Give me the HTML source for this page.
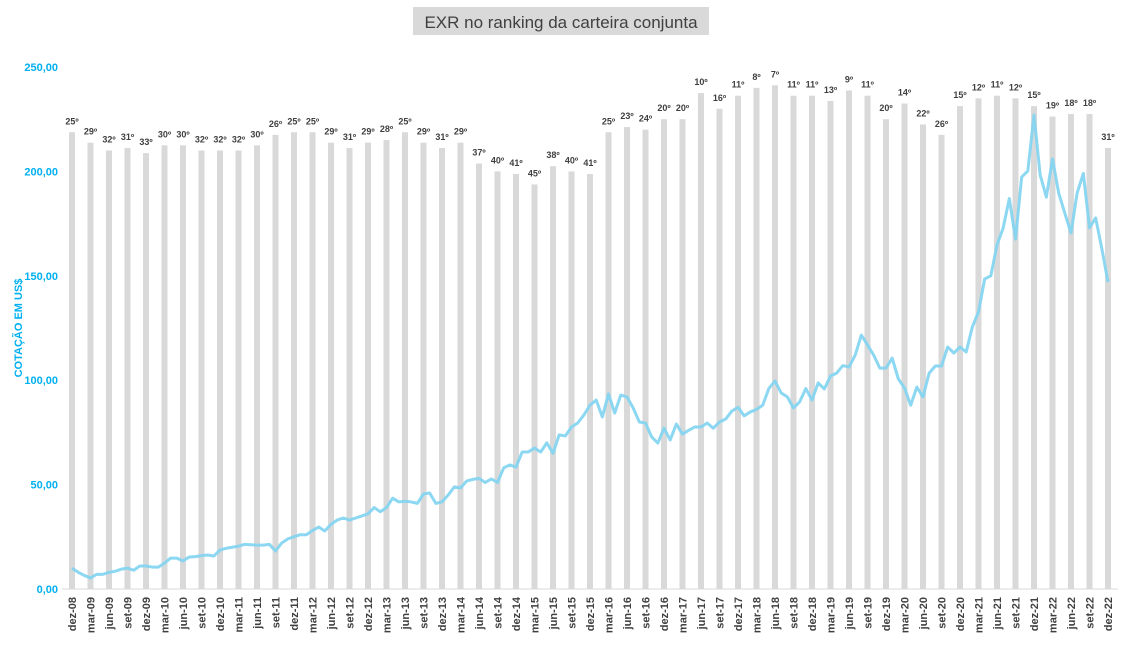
<!DOCTYPE html>
<html><head><meta charset="utf-8"><style>
body{margin:0;background:#fff;width:1136px;height:643px;overflow:hidden;font-family:"Liberation Sans",sans-serif}
</style></head><body>
<svg id="chart" width="1136" height="643" viewBox="0 0 1136 643" xmlns="http://www.w3.org/2000/svg">
<rect x="413" y="7" width="296" height="28" fill="#d9d9d9"/>
<text x="561" y="28" text-anchor="middle" font-size="17" fill="#404040" font-family="Liberation Sans, sans-serif">EXR no ranking da carteira conjunta</text>
<text transform="translate(22,328) rotate(-90)" text-anchor="middle" font-size="11" font-weight="bold" fill="#00b0f0">COTAÇÃO EM US$</text>
<g id="yaxis"></g>
<g id="bars"></g>
<g id="ranks"></g>
<g id="xaxis"></g>
<g id="line"></g>
</svg>
<script>
const yTicks = [0, 50, 100, 150, 200, 250];
const yTickLabels = ["0,00","50,00","100,00","150,00","200,00","250,00"];
const quarterLabels = ["dez-08","mar-09","jun-09","set-09","dez-09","mar-10","jun-10","set-10","dez-10","mar-11","jun-11","set-11","dez-11","mar-12","jun-12","set-12","dez-12","mar-13","jun-13","set-13","dez-13","mar-14","jun-14","set-14","dez-14","mar-15","jun-15","set-15","dez-15","mar-16","jun-16","set-16","dez-16","mar-17","jun-17","set-17","dez-17","mar-18","jun-18","set-18","dez-18","mar-19","jun-19","set-19","dez-19","mar-20","jun-20","set-20","dez-20","mar-21","jun-21","set-21","dez-21","mar-22","jun-22","set-22","dez-22"];
const ranks = [25,29,32,31,33,30,30,32,32,32,30,26,25,25,29,31,29,28,25,29,31,29,37,40,41,45,38,40,41,25,23,24,20,20,10,16,11,8,7,11,11,13,9,11,20,14,22,26,15,12,11,12,15,19,18,18,31];
const prices = [10,8,6.5,5.3,7,7,8,8.5,9.5,10,9,11,11,10.5,10.5,12.4,14.8,14.8,13.4,15.3,15.5,16,16.3,15.8,18.7,19.5,20,20.5,21.4,21.2,21,21,21.4,18.2,22,24,25,26,26,28,29.7,27.8,31,33,34,33,34,35,36,39,37,39,43.5,41.7,42,41.7,41,45.5,46,41,41.7,45,48.9,48.4,51.7,52.5,53,51,52.7,51,58,59.4,58.4,65.6,65.6,67.5,65.6,70,65,73.8,73.3,77.6,79.5,83.3,88,90.5,82.4,93.4,84.3,92.9,92,86.7,80,79.5,72.8,69.9,77,71.4,79,74.2,76,77.6,77.6,79.5,77,80,81.4,85.2,87,82.9,84.8,86,88,96,99.6,93.9,92,86.7,89.6,96,90.5,98.7,95.8,102,103.4,107,106.3,112,121.6,116.9,112,105.8,105.8,110.6,100.6,96.3,88,96.7,92,103.4,106.8,106.8,115.9,113,115.9,113.5,125.5,132.7,148.5,150,164.8,172.9,187,167.6,197.3,200.2,227,198.3,187.7,206,189.7,180,170.5,189.7,199,173,177.7,163,147];

const NS = "http://www.w3.org/2000/svg";
const x0 = 72, x1 = 1108, yBase = 589, yTop = 67;
function yScale(v){ return yBase - (v/250)*(yBase-yTop); }
function xQuarter(i){ return x0 + i*(x1-x0)/(quarterLabels.length-1); }
function xMonth(i){ return x0 + i*(x1-x0)/(prices.length-1); }
function rankToValue(r){ return 250 - 1.25*r; }
function mk(tag, attrs, parent){ const e=document.createElementNS(NS,tag); for(const k in attrs) e.setAttribute(k,attrs[k]); parent.appendChild(e); return e; }

const yg = document.getElementById('yaxis');
yTicks.forEach((t,i)=>{
  const tx = mk('text',{x:58,y:yScale(t)+4,'text-anchor':'end','font-size':11,'font-weight':'bold',fill:'#00b0f0'},yg);
  
  
  tx.textContent = yTickLabels[i];
});

const bg = document.getElementById('bars'), rg = document.getElementById('ranks'), xg = document.getElementById('xaxis');
ranks.forEach((r,i)=>{
  const cx = xQuarter(i), v = rankToValue(r), y = yScale(v);
  const b = mk('rect',{x:cx-3,y:y,width:6,height:yBase-y,fill:'#d9d9d9'},bg);
  
  
  const t = mk('text',{x:cx,y:y-8,'text-anchor':'middle','font-size':9,'font-weight':'bold',fill:'#404040'},rg);
  
  
  t.textContent = r + 'º';
});

const axis = mk('line',{x1:62,x2:1118,y1:yBase,y2:yBase,stroke:'#d9d9d9','stroke-width':1},xg);


quarterLabels.forEach((l,i)=>{
  const cx = xQuarter(i);
  const t = mk('text',{transform:`translate(${cx+4},597) rotate(-90)`,'text-anchor':'end','font-size':11,'font-weight':'bold',fill:'#404040'},xg);
  
  
  t.textContent = l;
});

const lg = document.getElementById('line');
const d = prices.map((p,i)=>(i?'L':'M')+xMonth(i).toFixed(2)+' '+yScale(p).toFixed(2)).join(' ');
const path = mk('path',{d:d,fill:'none',stroke:'#7fd3f1','stroke-width':3,'stroke-linejoin':'round','stroke-opacity':0.9},lg);


</script>
</body></html>
